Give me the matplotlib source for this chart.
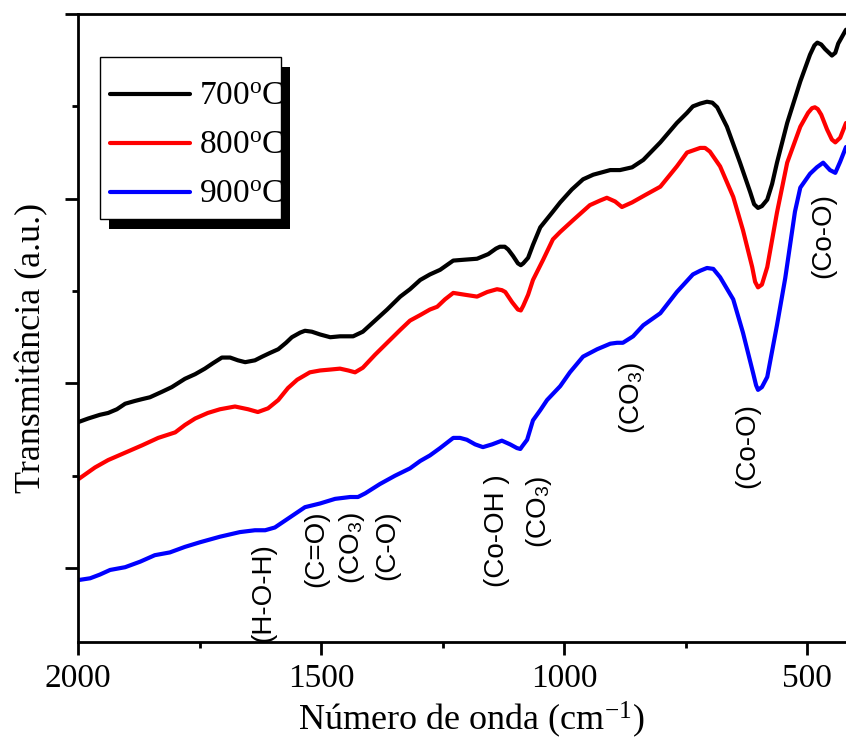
import matplotlib
matplotlib.use("Agg")
import matplotlib.pyplot as plt
from matplotlib.patches import Rectangle

plt.rcParams['font.family'] = ['Liberation Serif', 'DejaVu Serif']
plt.rcParams['mathtext.fontset'] = 'custom'
plt.rcParams['mathtext.rm'] = 'Liberation Serif'
plt.rcParams['mathtext.it'] = 'Liberation Serif:italic'
plt.rcParams['mathtext.sf'] = 'Liberation Sans'

# FTIR spectra (wavenumber in cm-1, transmittance in a.u.)
wn_700 = [2000, 1979, 1955, 1938, 1920, 1903, 1883, 1868, 1852, 1827, 1807, 1780, 1759, 1739,
          1722, 1704, 1687, 1671, 1656, 1636, 1621, 1605, 1588, 1572, 1560, 1543, 1533, 1519,
          1502, 1481, 1461, 1434, 1414, 1389, 1364, 1337, 1317, 1296, 1276, 1255, 1228, 1204,
          1179, 1156, 1140, 1132, 1122, 1115, 1105, 1095, 1089, 1084, 1074, 1064, 1049, 1023,
          1008, 984, 961, 940, 905, 885, 860, 837, 802, 768, 747, 735, 720, 706, 695, 685, 665,
          638, 617, 609, 601, 593, 582, 572, 562, 541, 529, 514, 494, 485, 479, 471, 463, 449,
          442, 436, 420]
t_700 = [15.8, 16.2, 16.6, 16.8, 17.2, 17.8, 18.1, 18.3, 18.5, 19.1, 19.6, 20.5, 21.0, 21.6,
         22.2, 22.8, 22.8, 22.5, 22.3, 22.5, 22.9, 23.3, 23.7, 24.4, 25.0, 25.5, 25.7, 25.6,
         25.3, 25.0, 25.1, 25.1, 25.6, 26.8, 28.0, 29.4, 30.2, 31.2, 31.8, 32.3, 33.3, 33.4,
         33.5, 34.0, 34.6, 34.8, 34.8, 34.5, 33.8, 33.0, 32.8, 33.0, 33.6, 35.0, 36.9, 38.6,
         39.6, 41.0, 42.1, 42.6, 43.1, 43.1, 43.4, 44.2, 46.1, 48.2, 49.3, 50.0, 50.3, 50.5,
         50.4, 49.9, 47.8, 43.9, 40.7, 39.4, 39.0, 39.2, 39.9, 41.6, 43.9, 48.2, 50.2, 52.7,
         55.6, 56.6, 56.9, 56.7, 56.2, 55.5, 55.8, 56.8, 58.3]

wn_800 = [2000, 1965, 1938, 1903, 1868, 1835, 1800, 1780, 1759, 1733, 1708, 1677, 1650, 1630,
          1609, 1588, 1568, 1549, 1523, 1502, 1481, 1461, 1444, 1430, 1414, 1389, 1364, 1337,
          1317, 1296, 1276, 1261, 1245, 1228, 1204, 1179, 1158, 1138, 1128, 1121, 1107, 1095,
          1089, 1084, 1074, 1064, 1043, 1023, 1008, 981, 947, 926, 912, 895, 881, 860, 833,
          802, 768, 747, 720, 710, 700, 679, 652, 632, 613, 607, 601, 593, 582, 562, 541, 514,
          498, 490, 484, 478, 471, 459, 449, 442, 432, 420]
t_800 = [9.6, 10.9, 11.7, 12.5, 13.3, 14.1, 14.7, 15.5, 16.2, 16.8, 17.2, 17.5, 17.2, 16.9,
         17.3, 18.2, 19.5, 20.4, 21.2, 21.4, 21.5, 21.6, 21.4, 21.2, 21.7, 23.1, 24.4, 25.8,
         26.8, 27.4, 28.0, 28.3, 29.1, 29.8, 29.6, 29.4, 29.9, 30.2, 30.1, 29.9, 28.8, 28.0,
         27.9, 28.4, 29.6, 31.2, 33.4, 35.6, 36.4, 37.7, 39.3, 39.8, 40.1, 39.7, 39.1, 39.6,
         40.4, 41.3, 43.5, 45.0, 45.5, 45.5, 45.1, 43.5, 40.2, 36.6, 32.6, 31.0, 30.4, 30.7,
         32.6, 38.5, 43.9, 47.8, 49.3, 49.8, 49.9, 49.7, 49.1, 47.5, 46.4, 46.1, 46.6, 48.2]

wn_900 = [2000, 1975, 1955, 1934, 1903, 1872, 1842, 1811, 1780, 1749, 1708, 1667, 1636, 1615,
          1595, 1564, 1533, 1502, 1471, 1440, 1424, 1409, 1379, 1348, 1317, 1296, 1276, 1255,
          1228, 1214, 1200, 1183, 1167, 1148, 1128, 1111, 1097, 1090, 1086, 1076, 1064, 1049,
          1035, 1008, 988, 961, 932, 905, 891, 879, 858, 837, 802, 768, 735, 720, 706, 693,
          679, 652, 632, 611, 605, 601, 593, 582, 562, 545, 535, 525, 514, 494, 480, 467, 453,
          442, 432, 420]
t_900 = [-1.3, -1.1, -0.7, -0.2, 0.1, 0.7, 1.4, 1.7, 2.3, 2.8, 3.4, 3.9, 4.1, 4.1,
         4.4, 5.5, 6.6, 7.0, 7.5, 7.7, 7.7, 8.1, 9.1, 10.0, 10.8, 11.6, 12.2, 13.0,
         14.1, 14.1, 13.9, 13.4, 13.1, 13.4, 13.8, 13.4, 13.0, 12.9, 13.2, 13.9, 16.0, 17.1,
         18.2, 19.7, 21.2, 22.9, 23.7, 24.3, 24.4, 24.4, 25.1, 26.3, 27.6, 29.9, 31.8, 32.2,
         32.5, 32.4, 31.5, 29.1, 25.5, 21.1, 19.8, 19.3, 19.6, 20.7, 26.3, 31.4, 35.0, 38.6,
         41.2, 42.7, 43.4, 43.9, 43.1, 42.8, 44.0, 45.6]

labels = ['700$^\\mathrm{o}$C', '800$^\\mathrm{o}$C', '900$^\\mathrm{o}$C']
colors = ['black', 'red', 'blue']

# band assignments: text, wavenumber, height
band_text = ['(H-O-H)', '(C=O)', '(CO$_\\mathsf{3}$)', '(C-O)', '(Co-OH )',
             '(CO$_\\mathsf{3}$)', '(CO$_\\mathsf{3}$)', '(Co-O)', '(Co-O)']
band_wn = [1619, 1510, 1436, 1364, 1138, 1051, 860, 623, 467]
band_t = [-2.6, 2.1, 2.2, 2.5, 4.1, 6.1, 18.4, 13.3, 36.0]

fig = plt.figure(figsize=(8.46, 7.47), dpi=100)
ax = fig.add_axes([78 / 846, 105 / 747, 768 / 846, 628 / 747])

for wn, t, lab, c in zip([wn_700, wn_800, wn_900], [t_700, t_800, t_900], labels, colors):
    ax.plot(wn, t, color=c, lw=3, label=lab, solid_joinstyle='round', solid_capstyle='round')

for txt, w, t in zip(band_text, band_wn, band_t):
    ax.text(w, t, txt, rotation=90, ha='center', va='center',
            fontsize=20, family='Liberation Sans')

ax.set_xlim(2000, 420)
ax.set_ylim(-8, 60)
ax.set_xticks([2000, 1500, 1000, 500])
ax.set_xticks([1750, 1250, 750], minor=True)
ax.set_yticks([0, 20, 40, 60])
ax.set_yticks([10, 30, 50], minor=True)
ax.tick_params(which='both', direction='out', width=2, labelsize=24, pad=6)
ax.tick_params(which='major', length=9.5)
ax.tick_params(which='minor', length=4.5)
ax.tick_params(axis='y', labelleft=False)
for s in ['left', 'bottom', 'top']:
    ax.spines[s].set_linewidth(2)
ax.spines['right'].set_visible(False)

ax.set_xlabel('Número de onda (cm$^{-1}$)', fontsize=26)
ax.set_ylabel('Transmitância (a.u.)', fontsize=26)
ax.xaxis.set_label_coords(0.512, -0.092)
ax.yaxis.set_label_coords(-0.039, 0.468)

# legend box with a black drop shadow, drawn in axes coordinates
box_x0, box_x1, box_y0, box_y1 = 0.0286, 0.2643, 0.6736, 0.9315
ax.add_patch(Rectangle((box_x0 + 0.0117, box_y0 - 0.0159), box_x1 - box_x0, box_y1 - box_y0,
                       transform=ax.transAxes, facecolor='black', edgecolor='none', zorder=5))
ax.add_patch(Rectangle((box_x0, box_y0), box_x1 - box_x0, box_y1 - box_y0,
                       transform=ax.transAxes, facecolor='white', edgecolor='black',
                       lw=1, zorder=6))
for i, (lab, c) in enumerate(zip(labels, colors)):
    yl = 0.8726 - i * 0.078
    ax.plot([0.0417, 0.1458], [yl, yl], color=c, lw=3, transform=ax.transAxes,
            zorder=7, solid_capstyle='round')
    ax.text(0.1576, yl - 0.0175, lab, transform=ax.transAxes, fontsize=24,
            ha='left', va='baseline', zorder=8)

fig.savefig('out.png', dpi=100)
